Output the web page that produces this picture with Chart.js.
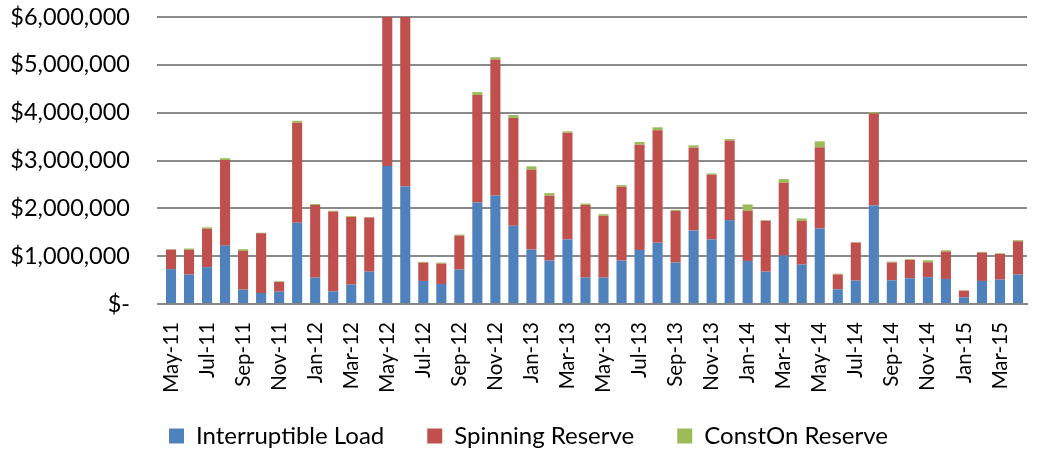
<!DOCTYPE html>
<html>
<head>
<meta charset="utf-8">
<script src="https://cdn.jsdelivr.net/npm/chart.js@4.4.1/dist/chart.umd.min.js"></script>
<style>
  html, body { margin: 0; padding: 0; background: #fff; }
  #wrap { width: 1041px; height: 450px; position: relative; }
</style>
</head>
<body>
<div id="wrap"><canvas id="c"></canvas></div>
<script>
const months = ["May-11","Jun-11","Jul-11","Aug-11","Sep-11","Oct-11","Nov-11","Dec-11",
  "Jan-12","Feb-12","Mar-12","Apr-12","May-12","Jun-12","Jul-12","Aug-12","Sep-12","Oct-12","Nov-12","Dec-12",
  "Jan-13","Feb-13","Mar-13","Apr-13","May-13","Jun-13","Jul-13","Aug-13","Sep-13","Oct-13","Nov-13","Dec-13",
  "Jan-14","Feb-14","Mar-14","Apr-14","May-14","Jun-14","Jul-14","Aug-14","Sep-14","Oct-14","Nov-14","Dec-14",
  "Jan-15","Feb-15","Mar-15","Apr-15"];

const interruptibleLoad = [730000,615000,770000,1220000,300000,230000,258000,1697000,
  552000,265000,405000,677000,2884000,2458000,482000,419000,719000,2123000,2270000,1634000,
  1138000,908000,1348000,552000,552000,908000,1131000,1278000,866000,1536000,1348000,1753000,
  900000,677000,1013000,824000,1578000,307000,489000,2060000,496000,538000,559000,524000,
  140000,482000,510000,615000];

const spinningReserve = [405000,516000,803000,1788000,810000,1250000,202000,2093000,
  1518000,1669000,1415000,1133000,4300000,4000000,384000,426000,711000,2247000,2840000,2256000,
  1669000,1355000,2234000,1522000,1292000,1543000,2200000,2353000,1082000,1732000,1354000,1662000,
  1048000,1062000,1522000,915000,1697000,308000,796000,1920000,370000,384000,314000,572000,
  139000,593000,537000,698000];

const constOnReserve = [12000,29000,29000,40000,35000,10000,15000,40000,
  20000,15000,16000,5000,0,0,14000,21000,20000,60000,50000,60000,
  70000,55000,28000,26000,34000,35000,56000,63000,21000,49000,28000,35000,
  133000,14000,77000,49000,125000,20000,7000,30000,21000,14000,42000,28000,
  7000,15000,13000,21000];

const yTicks = [0,1000000,2000000,3000000,4000000,5000000,6000000];

const FONT = "Lato, 'Open Sans', sans-serif";

const legendShift = {
  id: 'legendShift',
  afterLayout(chart) {
    if (chart.legend) { chart.legend.left += 15; chart.legend.right += 15; }
  }
};

new Chart(document.getElementById('c'), {
  type: 'bar',
  data: {
    labels: months,
    datasets: [
      { label: 'Interruptible Load', data: interruptibleLoad, backgroundColor: '#4F81BD', clip: 0 },
      { label: 'Spinning Reserve', data: spinningReserve, backgroundColor: '#C0504D', clip: 0 },
      { label: 'ConstOn Reserve', data: constOnReserve, backgroundColor: '#9BBB59', clip: 0 }
    ]
  },
  plugins: [legendShift],
  options: {
    responsive: true,
    maintainAspectRatio: false,
    animation: false,
    layout: { padding: { left: 0, right: 14, top: 17, bottom: -8 } },
    datasets: { bar: { barPercentage: 0.56, categoryPercentage: 1.0 } },
    plugins: {
      tooltip: { enabled: false },
      legend: {
        position: 'bottom',
        labels: {
          boxWidth: 15, boxHeight: 15, padding: 43,
          color: '#000', font: { family: FONT, size: 24 }
        }
      }
    },
    scales: {
      x: {
        stacked: true,
        grid: { display: false, drawTicks: false },
        border: { display: true, color: '#868686', width: 2 },
        afterFit: function (s) {
          s.height = 77; s.paddingLeft = 0; s.paddingRight = 0;
          s._computeLabelArea = function () {
            return { top: this.top, left: 0, bottom: this.chart.height, right: this.chart.width };
          };
        },
        ticks: {
          autoSkip: false, minRotation: 90, maxRotation: 90, padding: 18,
          color: '#000', font: { family: FONT, size: 20.5 },
          callback: function (v, i) { return i % 2 === 0 ? months[i] : ''; }
        }
      },
      y: {
        stacked: true,
        min: 0, max: 6000000,
        afterBuildTicks: function (s) { s.ticks = yTicks.map(v => ({ value: v })); },
        afterFit: function (s) { s.width = 162; s.paddingTop = 0; s.paddingBottom = 0; },
        grid: { color: '#8a8a8a', lineWidth: 2, tickLength: 5, drawTicks: true },
        border: { display: false },
        ticks: {
          padding: 27, color: '#000', font: { family: FONT, size: 23.5 },
          callback: function (v) { return v === 0 ? '$-' : '$' + Number(v).toLocaleString('en-US'); }
        }
      }
    }
  }
});
</script>
</body>
</html>
